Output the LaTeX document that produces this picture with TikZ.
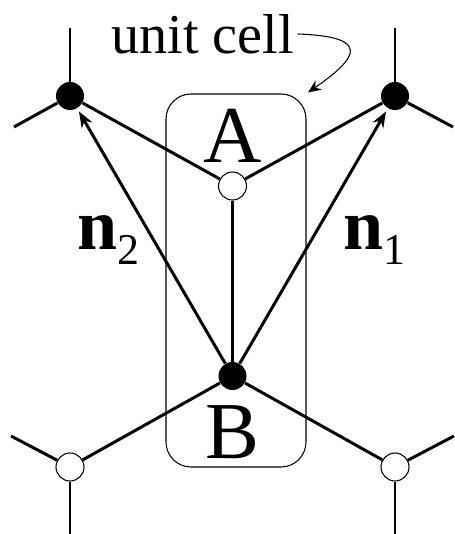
\documentclass[tikz,border=0pt]{standalone}
\usepackage{fontspec}
\setmainfont{Liberation Serif}
\usepackage{tikz}
\usetikzlibrary{arrows.meta, positioning}

% primitive vector label: bold n with a lowered index
\newcommand{\primlabel}[1]{\textbf{n}\raisebox{-8.5pt}{\fontsize{25}{25}\selectfont #1}}

\begin{document}
\begin{tikzpicture}[
    site/.style={circle, inner sep=0pt, minimum size=0.56cm},
    siteA/.style={site, draw, fill=white, line width=0.6pt},
    siteB/.style={site, fill=black},
    bond/.style={line width=1.7pt},
    primvec/.style={-{Stealth[length=3.2mm, width=2.4mm]}, line width=1.7pt, shorten >=2pt},
    cellbox/.style={rectangle, draw, rounded corners=0.5cm, line width=0.6pt, minimum width=2.8cm, minimum height=7.46cm},
    sublabel/.style={font=\fontsize{46}{46}\selectfont, inner sep=0pt, anchor=base},
    veclabel/.style={font=\fontsize{41}{41}\selectfont, inner sep=0pt, anchor=base west},
]
\useasboundingbox (0, 0) rectangle (9.1, 10.68);

% Unit cell
\node[cellbox] (cell) at (4.72, 5.07) {};
\node[font=\fontsize{32}{32}\selectfont, inner sep=2pt] (celltext) at (4.05, 10.0) {unit cell};

% Sites
\node[siteA] (a0) at (4.65, 6.96) {};
\node[siteB] (b0) at (4.65, 3.16) {};
\node[siteB] (b1) at (7.9, 8.76) {};
\node[siteB] (b2) at (1.4, 8.76) {};
\node[siteA] (a1) at (1.4, 1.34) {};
\node[siteA] (a2) at (7.9, 1.34) {};

% Free ends of the outer bonds
\coordinate (b2up) at (1.4, 10.12);
\coordinate (b2left) at (0.28, 8.14);
\coordinate (b1up) at (7.9, 10.12);
\coordinate (b1right) at (9.06, 8.14);
\coordinate (a1left) at (0.22, 1.96);
\coordinate (a1down) at (1.4, 0);
\coordinate (a2right) at (9.08, 1.96);
\coordinate (a2down) at (7.9, 0);

% Sublattice labels
\node[sublabel] (labA) at (4.66, 7.42) {A};
\node[sublabel] (labB) at (4.64, 1.5) {B};

% === Bonds ===
\draw[bond] (a0) -- (b0);
\draw[bond] (a0) -- (b1);
\draw[bond] (a0) -- (b2);
\draw[bond] (b0) -- (a1);
\draw[bond] (b0) -- (a2);
\draw[bond] (b2) -- (b2up);
\draw[bond] (b2) -- (b2left);
\draw[bond] (b1) -- (b1up);
\draw[bond] (b1) -- (b1right);
\draw[bond] (a1) -- (a1left);
\draw[bond] (a1) -- (a1down);
\draw[bond] (a2) -- (a2right);
\draw[bond] (a2) -- (a2down);

% === Primitive vectors ===
\draw[primvec] (b0) -- (b1);
\draw[primvec] (b0) -- (b2);
\node[veclabel] (n1) at (6.86, 5.68) {\primlabel{1}};
\node[veclabel] (n2) at (1.54, 5.68) {\primlabel{2}};

% Pointer to the cell
\draw[-{Stealth[length=2.6mm, width=2.2mm]}, line width=0.6pt, shorten >=1pt]
    (celltext.east) .. controls (7.4, 9.95) and (7.2, 9.55) .. (cell.north east);

\end{tikzpicture}
\end{document}
